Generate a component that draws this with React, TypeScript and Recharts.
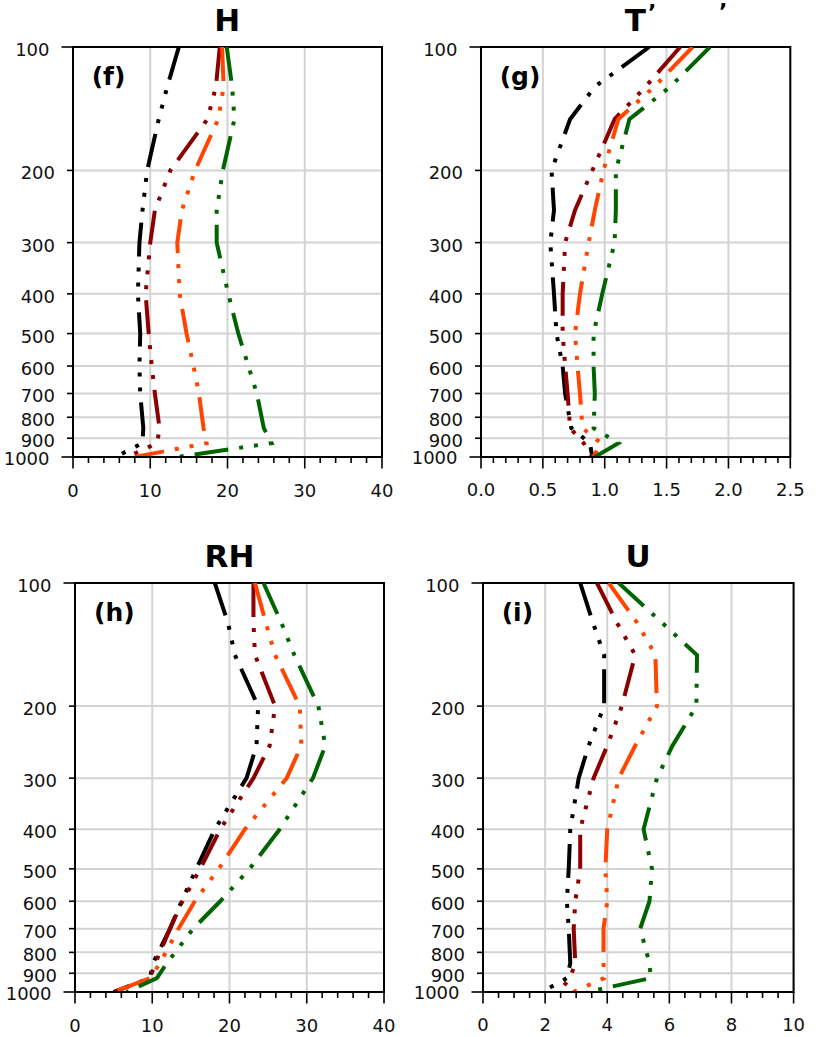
import React from "react";
import { CartesianGrid, Line, LineChart, ReferenceArea, XAxis, YAxis } from "recharts";

// pressure levels (hPa), top of the profile first
const levels = [100, 125, 150, 200, 250, 300, 400, 500, 600, 700, 850, 925, 1000];

// H
const hBlack = [13.7, 12.2, 11.1, 9.6, 9.0, 8.6, 8.4, 8.7, 8.6, 8.7, 9.1, 9.0, 5.5];
const hDarkred = [19.0, 18.5, 17.4, 12.6, 10.6, 10.0, 9.4, 9.8, 10.2, 10.6, 11.2, 10.9, 7.0];
const hOrange = [19.3, 19.5, 18.8, 15.8, 14.1, 13.5, 13.8, 14.7, 15.6, 16.3, 16.9, 17.3, 8.0];
const hGreen = [19.9, 20.6, 20.9, 19.4, 18.6, 18.6, 20.1, 21.4, 22.7, 23.8, 24.7, 25.7, 13.5];

// T
const tBlack = [1.36, 0.92, 0.72, 0.57, 0.59, 0.56, 0.59, 0.61, 0.66, 0.68, 0.73, 0.88, 0.9];
const tDarkred = [1.61, 1.33, 1.08, 0.9, 0.76, 0.68, 0.66, 0.66, 0.68, 0.7, 0.72, 0.83, 0.9];
const tOrange = [1.71, 1.4, 1.11, 0.99, 0.92, 0.87, 0.8, 0.76, 0.78, 0.8, 0.82, 0.97, 0.91];
const tGreen = [1.85, 1.53, 1.2, 1.09, 1.09, 1.08, 0.98, 0.91, 0.91, 0.92, 0.91, 1.11, 0.92];

// RH
const rhBlack = [18.1, 19.8, 20.7, 23.7, 23.5, 22.2, 18.1, 15.7, 13.8, 12.3, 10.1, 9.7, 5.0];
const rhDarkred = [23.1, 23.1, 23.3, 25.9, 25.2, 23.1, 18.8, 16.2, 13.9, 12.3, 10.4, 9.7, 5.0];
const rhOrange = [23.3, 24.7, 25.9, 29.1, 29.3, 27.4, 22.0, 18.6, 15.5, 13.4, 11.0, 9.7, 5.0];
const rhGreen = [24.4, 26.7, 28.4, 31.5, 32.4, 30.8, 26.5, 22.6, 18.8, 15.3, 11.9, 10.6, 6.7];

// U
const uBlack = [3.13, 3.54, 3.9, 3.9, 3.4, 3.08, 2.81, 2.76, 2.7, 2.76, 2.81, 2.7, 1.9];
const uDarkred = [3.67, 4.31, 4.9, 4.47, 4.0, 3.56, 3.13, 3.13, 2.97, 2.92, 2.97, 2.8, 2.44];
const uOrange = [4.05, 4.96, 5.55, 5.6, 4.9, 4.37, 4.0, 3.94, 4.0, 3.88, 3.88, 3.9, 2.9];
const uGreen = [4.37, 5.76, 6.89, 6.87, 6.1, 5.6, 5.17, 5.44, 5.36, 5.06, 5.36, 5.4, 3.35];

// axis ticks
const yTicks = [100, 200, 300, 400, 500, 600, 700, 800, 900, 1000];
const yMajor = [100, 1000];
const tensMajor = [0, 10, 20, 30, 40];
const tensMinor = [2, 4, 6, 8, 12, 14, 16, 18, 22, 24, 26, 28, 32, 34, 36, 38];
const tMajor = [0, 0.5, 1, 1.5, 2, 2.5];
const tMinor = [0.1, 0.2, 0.3, 0.4, 0.6, 0.7, 0.8, 0.9, 1.1, 1.2, 1.3, 1.4, 1.6, 1.7, 1.8, 1.9, 2.1, 2.2, 2.3, 2.4];
const uMajor = [0, 2, 4, 6, 8, 10];
const uMinor = [0.5, 1, 1.5, 2.5, 3, 3.5, 4.5, 5, 5.5, 6.5, 7, 7.5, 8.5, 9, 9.5];

const SERIES = [
  { key: "black", color: "#000000" },
  { key: "darkred", color: "#8b0000" },
  { key: "orangered", color: "#ff4500" },
  { key: "darkgreen", color: "#006400" },
];

const FONT = "DejaVu Sans, sans-serif";
const TICK_FS = 18;
const Y_W = 80;
const M_TOP = 12;
const M_RIGHT = 24;
const X_H = 50;
const DASH = "34 11 4 11 4 11 4 11";

function buildRows(cols: number[][]) {
  return levels.map((p, i) => ({
    p,
    black: cols[0][i],
    darkred: cols[1][i],
    orangered: cols[2][i],
    darkgreen: cols[3][i],
  }));
}

type PanelSpec = {
  title: string;
  tag: string;
  rows: any[];
  xDomain: [number, number];
  xMajor: number[];
  xMinor: number[];
  fmt: (v: number) => string;
  left: number;
  right: number;
  top: number;
  bottom: number;
};

const panels: PanelSpec[] = [
  {
    title: "H", tag: "(f)", rows: buildRows([hBlack, hDarkred, hOrange, hGreen]),
    xDomain: [0, 40], xMajor: tensMajor, xMinor: tensMinor, fmt: (v) => String(v),
    left: 72.7, right: 381.7, top: 46.7, bottom: 456.7,
  },
  {
    title: "T", tag: "(g)", rows: buildRows([tBlack, tDarkred, tOrange, tGreen]),
    xDomain: [0, 2.5], xMajor: tMajor, xMinor: tMinor, fmt: (v) => v.toFixed(1),
    left: 480.7, right: 790, top: 46.7, bottom: 456.7,
  },
  {
    title: "RH", tag: "(h)", rows: buildRows([rhBlack, rhDarkred, rhOrange, rhGreen]),
    xDomain: [0, 40], xMajor: tensMajor, xMinor: tensMinor, fmt: (v) => String(v),
    left: 75, right: 384, top: 582.7, bottom: 991.7,
  },
  {
    title: "U", tag: "(i)", rows: buildRows([uBlack, uDarkred, uOrange, uGreen]),
    xDomain: [0, 10], xMajor: uMajor, xMinor: uMinor, fmt: (v) => String(v),
    left: 482.7, right: 793.3, top: 582.7, bottom: 991.7,
  },
];

function Panel({ spec }: { spec: PanelSpec }) {
  const w = spec.right - spec.left;
  const h = spec.bottom - spec.top;
  const xTicks = [...spec.xMajor, ...spec.xMinor].sort((a, b) => a - b);

  const xTick = (props: any) => {
    const { x, y, payload } = props;
    const major = spec.xMajor.includes(payload.value);
    return (
      <g>
        <line x1={x} x2={x} y1={y} y2={y + (major ? 11.5 : 6)} stroke="#000" strokeWidth={1.6} />
        {major && (
          <text x={x} y={y + 39.5} textAnchor="middle" fontSize={TICK_FS} fontFamily={FONT} fill="#111">
            {spec.fmt(payload.value)}
          </text>
        )}
      </g>
    );
  };

  const yTick = (props: any) => {
    const { x, y, payload } = props;
    const v = payload.value;
    const len = yMajor.includes(v) ? 11.5 : 6;
    const dy = v === 1000 ? 7.5 : v === 900 ? 8.3 : 9;
    return (
      <g>
        <line x1={x - len} x2={x} y1={y} y2={y} stroke="#000" strokeWidth={1.6} />
        <text x={x - len - 12} y={y + dy} textAnchor="end" fontSize={TICK_FS} fontFamily={FONT} fill="#111">
          {v}
        </text>
      </g>
    );
  };

  const axisStyle = { stroke: "#000", strokeWidth: 2 };

  return (
    <div style={{ position: "absolute", left: spec.left - Y_W, top: spec.top - M_TOP }}>
      <LineChart
        layout="vertical"
        width={Y_W + w + M_RIGHT}
        height={M_TOP + h + X_H}
        data={spec.rows}
        margin={{ top: M_TOP, right: M_RIGHT, bottom: 0, left: 0 }}
      >
        <CartesianGrid stroke="#d3d3d3" strokeWidth={2} verticalValues={spec.xMajor} />
        <XAxis
          type="number" domain={spec.xDomain} ticks={xTicks} interval={0} tick={xTick}
          tickLine={false} tickSize={0} tickMargin={0} height={X_H} axisLine={axisStyle} allowDataOverflow
        />
        <YAxis
          type="number" dataKey="p" scale="log" domain={[100, 1000]} ticks={yTicks} interval={0}
          tick={yTick} tickLine={false} tickSize={0} tickMargin={0} width={Y_W} axisLine={axisStyle} allowDataOverflow
        />
        {SERIES.map((s) => (
          <Line
            key={s.key}
            type="linear"
            dataKey={s.key}
            stroke={s.color}
            strokeWidth={4}
            strokeDasharray={DASH}
            dot={false}
            isAnimationActive={false}
          />
        ))}
        <ReferenceArea
          x1={spec.xDomain[0]} x2={spec.xDomain[1]} y1={100} y2={1000}
          fill="none" fillOpacity={0} stroke="#000" strokeWidth={2} ifOverflow="visible"
        />
      </LineChart>
    </div>
  );
}

export default function App() {
  return (
    <div style={{ position: "absolute", left: 0, top: 0, width: 820, height: 1037, background: "#fff" }}>
      {panels.map((p) => (
        <Panel key={p.tag} spec={p} />
      ))}
      <svg width={820} height={1037} style={{ position: "absolute", left: 0, top: 0, pointerEvents: "none" }}>
        {panels.map((p) => (
          <g key={p.tag}>
            <text
              x={(p.left + p.right) / 2} y={p.top - 15.5} textAnchor="middle"
              fontSize={31} fontWeight="bold" fontFamily={FONT} fill="#000"
            >
              {p.title}
            </text>
            <text x={p.left + 19} y={p.top + 38} fontSize={25} fontWeight="bold" fontFamily={FONT} fill="#000">
              {p.tag}
            </text>
          </g>
        ))}
        <text x={648} y={20} fontSize={22} fontWeight="bold" fontFamily={FONT} fill="#000">’</text>
        <text x={719} y={19} fontSize={22} fontWeight="bold" fontFamily={FONT} fill="#000">’</text>
      </svg>
    </div>
  );
}
